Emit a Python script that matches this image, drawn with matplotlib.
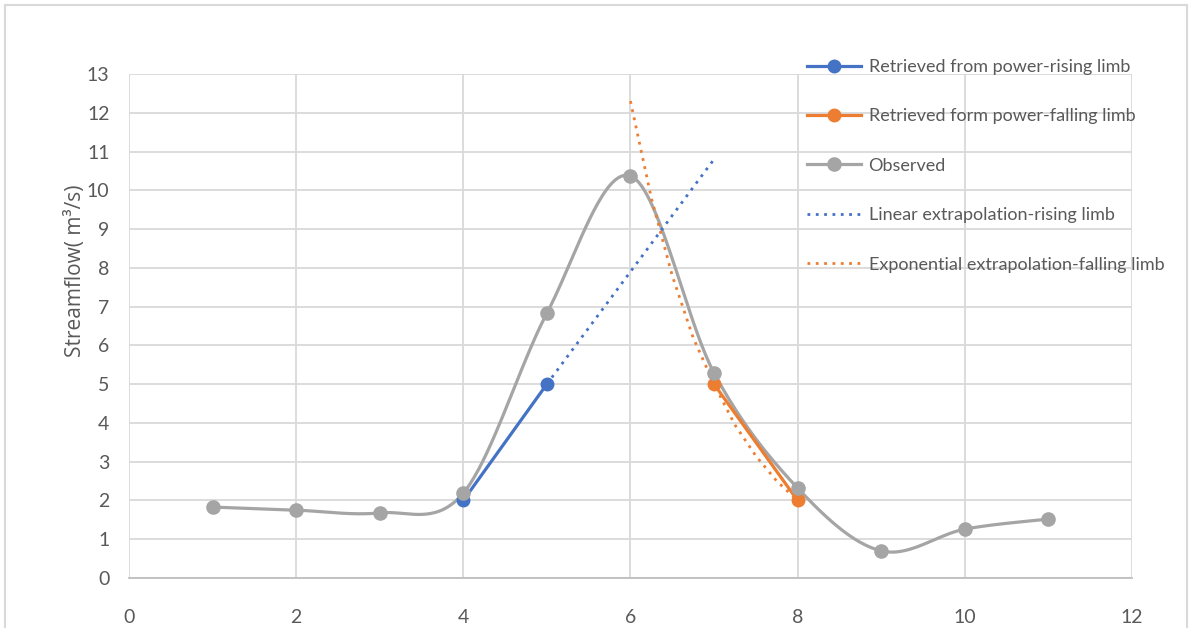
import numpy as np
import matplotlib
matplotlib.use('Agg')
import matplotlib.pyplot as plt
from matplotlib.patches import Rectangle

plt.rcParams['font.family'] = ['Lato', 'DejaVu Sans']

# observed streamflow
obs_x = [1, 2, 3, 4, 5, 6, 7, 8, 9, 10, 11]
obs_y = [1.83, 1.75, 1.68, 2.19, 6.83, 10.37, 5.29, 2.32, 0.70, 1.26, 1.52]

# retrieved from power relations
rise_x = [4, 5]
rise_y = [2.0, 5.0]
fall_x = [7, 8]
fall_y = [5.0, 2.0]

# extrapolations
lin_x = [5.0, 7.0]
lin_y = [5.0, 10.8]
exp_x = [6.0, 6.25, 6.5, 6.75, 7.0, 7.25, 7.5, 7.75, 8.0]
exp_y = [12.3, 9.8, 7.8, 6.2, 5.0, 3.95, 3.15, 2.5, 2.0]

labels = ['Retrieved from power-rising limb',
          'Retrieved form power-falling limb',
          'Observed',
          'Linear extrapolation-rising limb',
          'Exponential extrapolation-falling limb']

blue = '#4472C4'
orange = '#ED7D31'
grey = '#A5A5A5'
text_col = '#595959'


def smooth(xs, ys, n=40):
    # excel-like bezier smoothing
    p = np.column_stack([xs, ys]).astype(float)
    out = []
    for i in range(len(p) - 1):
        p0 = p[i - 1] if i > 0 else p[i]
        p1 = p[i]
        p2 = p[i + 1]
        p3 = p[i + 2] if i + 2 < len(p) else p[i + 1]
        c1 = p1 + (p2 - p0) / 6
        c2 = p2 - (p3 - p1) / 6
        t = np.linspace(0, 1, n)[:, None]
        seg = (1 - t) ** 3 * p1 + 3 * (1 - t) ** 2 * t * c1 + 3 * (1 - t) * t ** 2 * c2 + t ** 3 * p2
        out.append(seg)
    out = np.vstack(out)
    return out[:, 0], out[:, 1]


fig = plt.figure(figsize=(11.92, 6.28), dpi=100)
ax = fig.add_axes([0.1082, 0.0796, 0.8414, 0.8026])

fig.patches.append(Rectangle((5 / 1192, -0.01), 1182 / 1192, 1 - 5 / 628 + 0.01,
                             transform=fig.transFigure, fill=False,
                             edgecolor='#d9d9d9', linewidth=1.5))

sx, sy = smooth(obs_x, obs_y)

h_rise, = ax.plot(rise_x, rise_y, color=blue, lw=2.3, marker='o', ms=9, zorder=4)
h_fall, = ax.plot(fall_x, fall_y, color=orange, lw=2.3, marker='o', ms=9, zorder=4)
ax.plot(sx, sy, color=grey, lw=2.3, zorder=3)
ax.plot(obs_x, obs_y, ls='none', color=grey, marker='o', ms=9.5, zorder=5)
h_obs, = ax.plot([], [], color=grey, lw=2.3, marker='o', ms=9.5)
h_lin, = ax.plot(lin_x, lin_y, color=blue, lw=2, ls=(0, (1, 2)), zorder=3)
h_exp, = ax.plot(exp_x, exp_y, color=orange, lw=2, ls=(0, (1, 2)), zorder=3)

ax.set_xlim(0, 12)
ax.set_ylim(0, 13)
ax.set_xticks(range(0, 13, 2))
ax.set_yticks(range(0, 14))
ax.grid(True, color='#d9d9d9', lw=1.3)
ax.set_axisbelow(True)
for s in ['top', 'right', 'left']:
    ax.spines[s].set_visible(False)
ax.spines['bottom'].set_color('#bfbfbf')
ax.spines['bottom'].set_linewidth(1.3)
ax.tick_params(length=0, labelsize=14, labelcolor=text_col)
ax.tick_params(axis='x', pad=22)
ax.tick_params(axis='y', pad=14)

ax.set_ylabel('Streamflow( m³/s)', fontsize=15, color=text_col,
              family=['Open Sans', 'DejaVu Sans'])
ax.yaxis.set_label_coords(-0.043, 0.61)

leg = ax.legend([h_rise, h_fall, h_obs, h_lin, h_exp], labels,
                loc='upper left', bbox_to_anchor=(0.66, 1.062), frameon=False,
                fontsize=13, labelcolor=text_col, handlelength=3.0,
                handletextpad=0.4, labelspacing=1.85)

plt.savefig('out.png', dpi=100)
